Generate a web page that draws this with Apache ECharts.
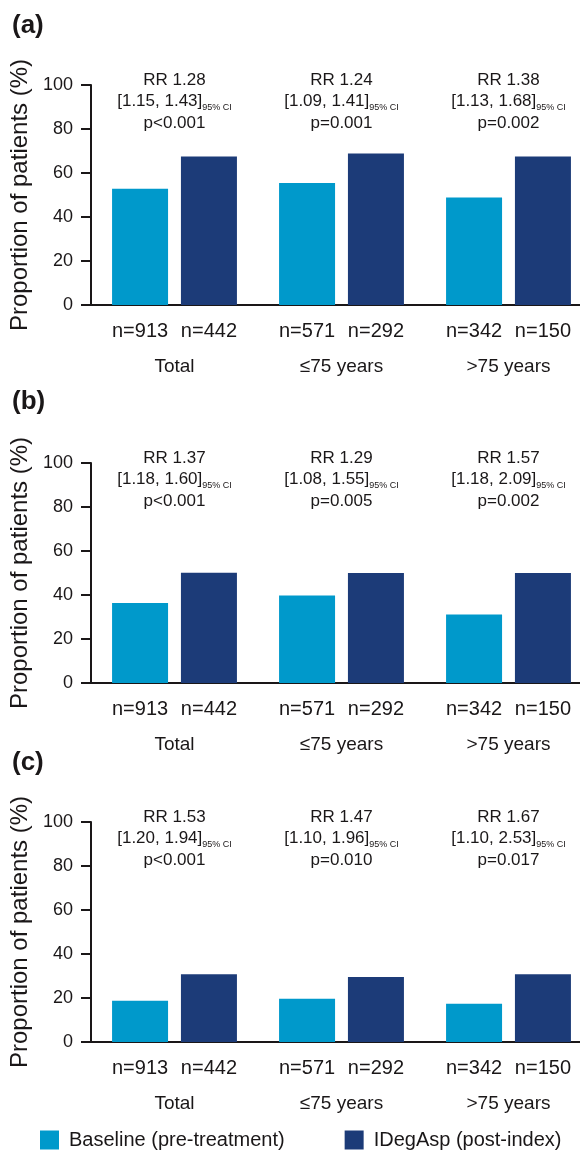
<!DOCTYPE html>
<html>
<head>
<meta charset="utf-8">
<script src="https://cdn.jsdelivr.net/npm/echarts@6/dist/echarts.min.js"></script>
<style>
  html, body { margin: 0; padding: 0; background: #fff; }
  #chart { width: 580px; height: 1152px; }
</style>
</head>
<body>
<div id="chart"></div>
<script>
// data
const categories = ['Total', '≤75 years', '>75 years'];
const nBaseline = [913, 571, 342];
const nIdeg = [442, 292, 150];

const baselineA = [52.8, 55.4, 48.9];
const idegA = [67.5, 68.9, 67.5];
const baselineB = [36.4, 39.8, 31.1];
const idegB = [50.1, 50.0, 50.0];
const baselineC = [18.8, 19.7, 17.4];
const idegC = [30.8, 29.5, 30.8];

const rrA = ['RR 1.28', 'RR 1.24', 'RR 1.38'];
const ciA = ['[1.15, 1.43]', '[1.09, 1.41]', '[1.13, 1.68]'];
const pA = ['p<0.001', 'p=0.001', 'p=0.002'];
const rrB = ['RR 1.37', 'RR 1.29', 'RR 1.57'];
const ciB = ['[1.18, 1.60]', '[1.08, 1.55]', '[1.18, 2.09]'];
const pB = ['p<0.001', 'p=0.005', 'p=0.002'];
const rrC = ['RR 1.53', 'RR 1.47', 'RR 1.67'];
const ciC = ['[1.20, 1.94]', '[1.10, 1.96]', '[1.10, 2.53]'];
const pC = ['p<0.001', 'p=0.010', 'p=0.017'];

const yTicks = [0, 20, 40, 60, 80, 100];

const panels = [
  { letter: '(a)', top: 85, letterTop: 13, base: baselineA, ideg: idegA, rr: rrA, ci: ciA, p: pA },
  { letter: '(b)', top: 463, letterTop: 389, base: baselineB, ideg: idegB, rr: rrB, ci: ciB, p: pB },
  { letter: '(c)', top: 822, letterTop: 750, base: baselineC, ideg: idegC, rr: rrC, ci: ciC, p: pC }
];

const LIGHT = '#0099cb';
const DARK = '#1c3b78';
const TXT = '#1a1718';
const FONT = '"Liberation Sans", Arial, sans-serif';
const ANNOT_Y = 92.5; // vertical anchor of the RR block, in axis units

const chart = echarts.init(document.getElementById('chart'));

const grids = [], xAxes = [], yAxes = [], series = [], graphics = [];

panels.forEach((pn, i) => {
  // wider than the canvas on purpose: the axis runs off the right edge like the original
  grids.push({ left: 91, top: pn.top, width: 501, height: 220, outerBoundsMode: 'none', containLabel: false });
  xAxes.push({
    type: 'category', gridIndex: i, data: categories,
    axisLine: { lineStyle: { color: TXT, width: 2 } },
    axisTick: { show: false },
    axisLabel: { color: TXT, fontSize: 19, fontFamily: FONT, margin: 52 }
  });
  yAxes.push({
    type: 'value', gridIndex: i, min: 0, max: 100, interval: 20,
    name: 'Proportion of patients (%)', nameLocation: 'middle', nameGap: 56,
    nameTextStyle: { color: TXT, fontSize: 24, fontFamily: FONT },
    splitLine: { show: false },
    axisLine: { show: true, lineStyle: { color: TXT, width: 2 } },
    axisTick: { show: true, length: 10, lineStyle: { color: TXT, width: 2 } },
    axisLabel: { color: TXT, fontSize: 18, fontFamily: FONT, margin: 18,
      formatter: v => yTicks.includes(v) ? String(v) : '' }
  });
  const nLabel = arr => ({
    show: true, position: 'bottom', distance: 16, color: TXT, fontSize: 20, fontFamily: FONT,
    formatter: p => 'n=' + arr[p.dataIndex]
  });
  series.push({
    name: 'Baseline (pre-treatment)', type: 'bar', xAxisIndex: i, yAxisIndex: i,
    data: pn.base, barWidth: 56, barGap: '23%', itemStyle: { color: LIGHT },
    label: nLabel(nBaseline)
  });
  series.push({
    name: 'IDegAsp (post-index)', type: 'bar', xAxisIndex: i, yAxisIndex: i,
    data: pn.ideg, barWidth: 56, barGap: '23%', itemStyle: { color: DARK },
    label: nLabel(nIdeg)
  });
  series.push({
    type: 'scatter', xAxisIndex: i, yAxisIndex: i, silent: true,
    data: categories.map(() => ANNOT_Y), symbolSize: 0,
    itemStyle: { color: '#fff', opacity: 1 },
    label: {
      show: true, position: 'inside', color: TXT, opacity: 1, fontFamily: FONT,
      formatter: p => `{t|${pn.rr[p.dataIndex]}}\n{t|${pn.ci[p.dataIndex]}}{s|95% CI}\n{t|${pn.p[p.dataIndex]}}`,
      rich: {
        t: { fontSize: 17, lineHeight: 21.5, color: TXT, fontFamily: FONT },
        s: { fontSize: 9, lineHeight: 10, verticalAlign: 'bottom', color: TXT, fontFamily: FONT }
      }
    }
  });
  graphics.push({
    type: 'text', left: 12, top: pn.letterTop,
    style: { text: pn.letter, fill: TXT, font: 'bold 26px ' + FONT }
  });
});

chart.setOption({
  animation: false,
  backgroundColor: '#fff',
  grid: grids,
  xAxis: xAxes,
  yAxis: yAxes,
  series: series,
  graphic: graphics,
  legend: {
    data: ['Baseline (pre-treatment)', 'IDegAsp (post-index)'],
    left: 35, top: 1125, icon: 'rect', itemWidth: 19, itemHeight: 19, itemGap: 60,
    textStyle: { color: TXT, fontSize: 20, fontFamily: FONT, padding: [0, 0, 0, 5] }
  }
});
</script>
</body>
</html>
